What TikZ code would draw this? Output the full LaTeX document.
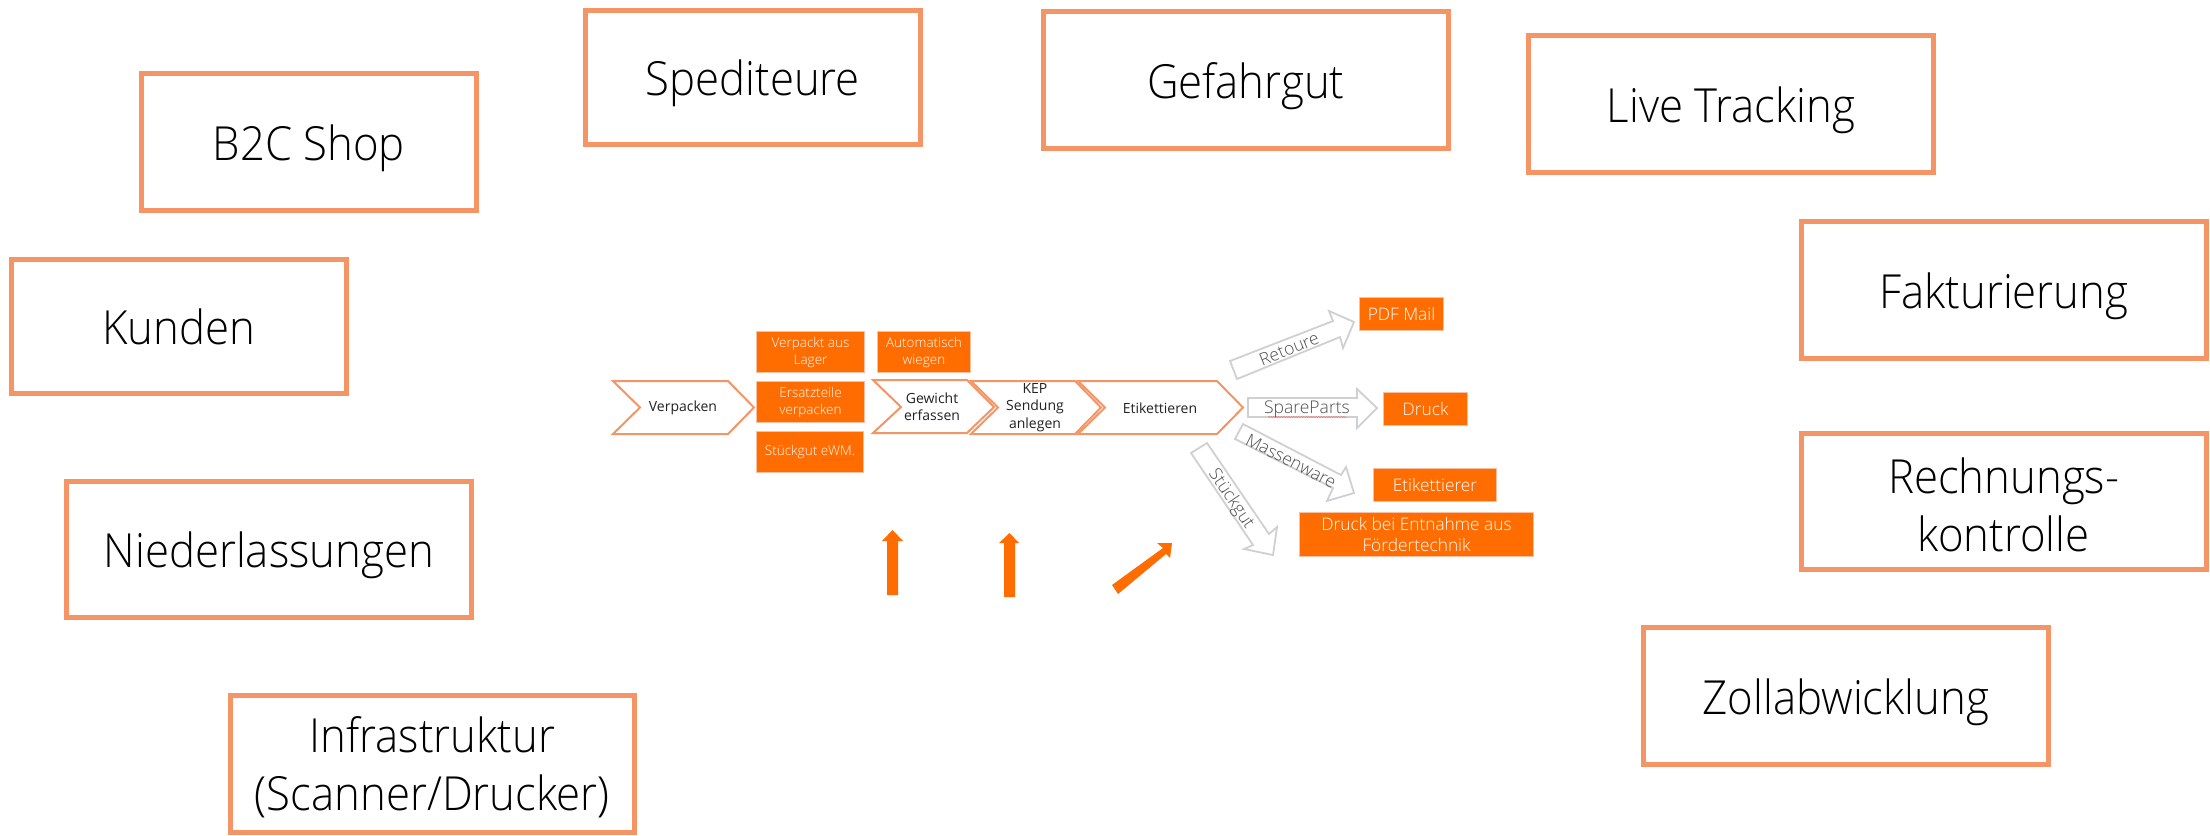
\documentclass[tikz,border=0pt]{standalone}
\usepackage{fontspec}
\setmainfont{Open Sans}
\newfontfamily\lightf[FakeStretch=0.93]{Open Sans Light}
\newfontfamily\lightg{Open Sans Light}
\usetikzlibrary{decorations.pathmorphing}
\definecolor{boxline}{HTML}{F59464}
\definecolor{fillor}{HTML}{FF6C00}
\definecolor{greyline}{HTML}{D0D0D0}
\definecolor{txt}{HTML}{222222}
\tikzset{
  x=1pt,y=-1pt,
  bigbox/.style={draw=boxline,line width=4.6pt,fill=white,inner sep=0pt,align=center,text=black,anchor=north west,font=\lightf\fontsize{47}{57.5}\selectfont},
  oneline/.style={text height=37pt,text depth=0pt},
  twoline/.style={text height=100pt},
  orbox/.style={fill=fillor,draw=boxline!60!white,line width=0.6pt,inner sep=0pt,align=center,text=white,font=\lightg\fontsize{13.5}{17}\selectfont},
  orboxb/.style={fill=fillor,draw=boxline!60!white,line width=0.6pt,inner sep=0pt,align=center,text=white,font=\lightg\fontsize{17.3}{21.5}\selectfont},
  chev/.style={draw=boxline,line width=2pt,fill=white,line join=miter},
  chevtext/.style={inner sep=0pt,align=center,text=txt,font=\fontsize{14}{17.4}\selectfont},
  grey/.style={draw=greyline,line width=1.8pt,fill=white},
  greytext/.style={inner sep=0pt,text=txt!80!white,font=\lightg\fontsize{17.5}{20}\selectfont},
  solidor/.style={fill=fillor,draw=none},
  spell/.style={draw=red!70!white,line width=0.4pt,decorate,decoration={snake,amplitude=0.4pt,segment length=2.5pt}},
}
\newcommand{\obox}[7][orbox]{\node[#1,minimum width=#4pt-#2pt-0.6pt,minimum height=#5pt-#3pt-0.6pt] (#7) at ({(#2+#4)/2},{(#3+#5)/2}) {#6};}
\begin{document}
\begin{tikzpicture}
\useasboundingbox (0,0) rectangle (2210,835);
\fill[white] (0,0) rectangle (2210,835);
% large boxes
\node[bigbox,oneline,minimum width=335pt,minimum height=137pt] (b2c) at (139,71) {B2C Shop};
\node[bigbox,oneline,minimum width=335pt,minimum height=134pt] (sped) at (583,8) {Spediteure};
\node[bigbox,oneline,minimum width=405pt,minimum height=137pt] (gef) at (1041,9) {Gefahrgut};
\node[bigbox,oneline,minimum width=405pt,minimum height=137pt] (live) at (1526,33) {Live Tracking};
\node[bigbox,oneline,minimum width=405pt,minimum height=137pt] (fakt) at (1799,219) {Fakturierung};
\node[bigbox,twoline,minimum width=405pt,minimum height=136pt] (rech) at (1799,431) {Rechnungs-\\kontrolle};
\node[bigbox,oneline,minimum width=405pt,minimum height=137pt] (zoll) at (1641,625) {Zollabwicklung};
\node[bigbox,oneline,minimum width=335pt,minimum height=134pt] (kund) at (9,257) {Kunden};
\node[bigbox,oneline,minimum width=405pt,minimum height=136pt] (nied) at (64,479) {Niederlassungen};
\node[bigbox,twoline,minimum width=404pt,minimum height=137pt] (infra) at (228,693) {Infrastruktur\\(Scanner/Drucker)};
% chevrons
\draw[chev] (613,381) -- (728,381) -- (754,407.5) -- (728,434) -- (613,434) -- (640,407.5) -- cycle;
\node[chevtext] (tverp) at (683,408) {Verpacken};
\draw[chev] (1078,381) -- (1217,381) -- (1243,407.5) -- (1217,434) -- (1078,434) -- (1105,407.5) -- cycle;
\draw[chev] (971,381) -- (1075,381) -- (1101,407.5) -- (1075,434) -- (971,434) -- (998,407.5) -- cycle;
\draw[chev] (873,380) -- (967,380) -- (994,407) -- (967,433) -- (873,433) -- (901,407) -- cycle;
\node[chevtext] (tgew) at (932,407) {Gewicht\\erfassen};
\node[chevtext] (tkep) at (1035,407.5) {KEP\\Sendung\\anlegen};
\node[chevtext] (teti) at (1160,408) {Etikettieren};
% small orange boxes
\obox{756}{331}{865}{373}{Verpackt aus\\Lager}{}{o1}
\obox{756}{381}{865}{423}{Ersatzteile\\verpacken}{}{o2}
\obox{756}{431}{864}{473}{Stückgut eWM.}{}{o3}
\obox{877}{331}{971}{373}{Automatisch\\wiegen}{}{o4}
\draw[spell] (822,459.5) -- (854,459.5);
% grey arrows
\draw[grey] (1230,361) -- (1333,321) -- (1329,311) -- (1354,322) -- (1343,348) -- (1340,337) -- (1237,379) -- cycle;
\node[greytext,rotate=22] (tret) at (1289,349) {Retoure};
\draw[grey] (1248,398) -- (1357,398) -- (1357,389) -- (1377,408) -- (1357,428) -- (1357,417) -- (1248,417) -- cycle;
\node[greytext] (tspa) at (1307,409) {SpareParts};
\draw[spell] (1268,417) -- (1347,417);
\draw[grey] (1243,424) -- (1341,475) -- (1346,467) -- (1354,493) -- (1327,501) -- (1333,488) -- (1235,439) -- cycle;
\node[greytext,rotate=-27] (tmas) at (1291,461) {Massenware};
\draw[grey] (1207,443) -- (1269,534) -- (1277,527) -- (1273,555) -- (1244,549) -- (1253,545) -- (1191,453) -- cycle;
\node[greytext,rotate=-56] (tstu) at (1231,499) {Stückgut};
% right orange boxes
\obox[orboxb]{1359}{297}{1444}{331}{PDF Mail}{}{r1}
\obox[orboxb]{1383}{392}{1468}{426}{Druck}{}{r2}
\obox[orboxb]{1373}{468}{1497}{502}{Etikettierer}{}{r3}
\obox[orboxb]{1299}{512}{1534}{557}{Druck bei Entnahme aus\\Fördertechnik}{}{r4}
% solid arrows
\fill[solidor] (887,595) -- (887,541) -- (882,541) -- (892.5,530) -- (903,541) -- (898,541) -- (898,595) -- cycle;
\fill[solidor] (1004,597) -- (1004,543) -- (999,543) -- (1009.5,533) -- (1019,543) -- (1015,543) -- (1015,597) -- cycle;
\fill[solidor] (1112,585) -- (1163,548) -- (1157,543) -- (1172,543) -- (1170,558) -- (1166,554) -- (1118,594) -- cycle;
\end{tikzpicture}
\end{document}
